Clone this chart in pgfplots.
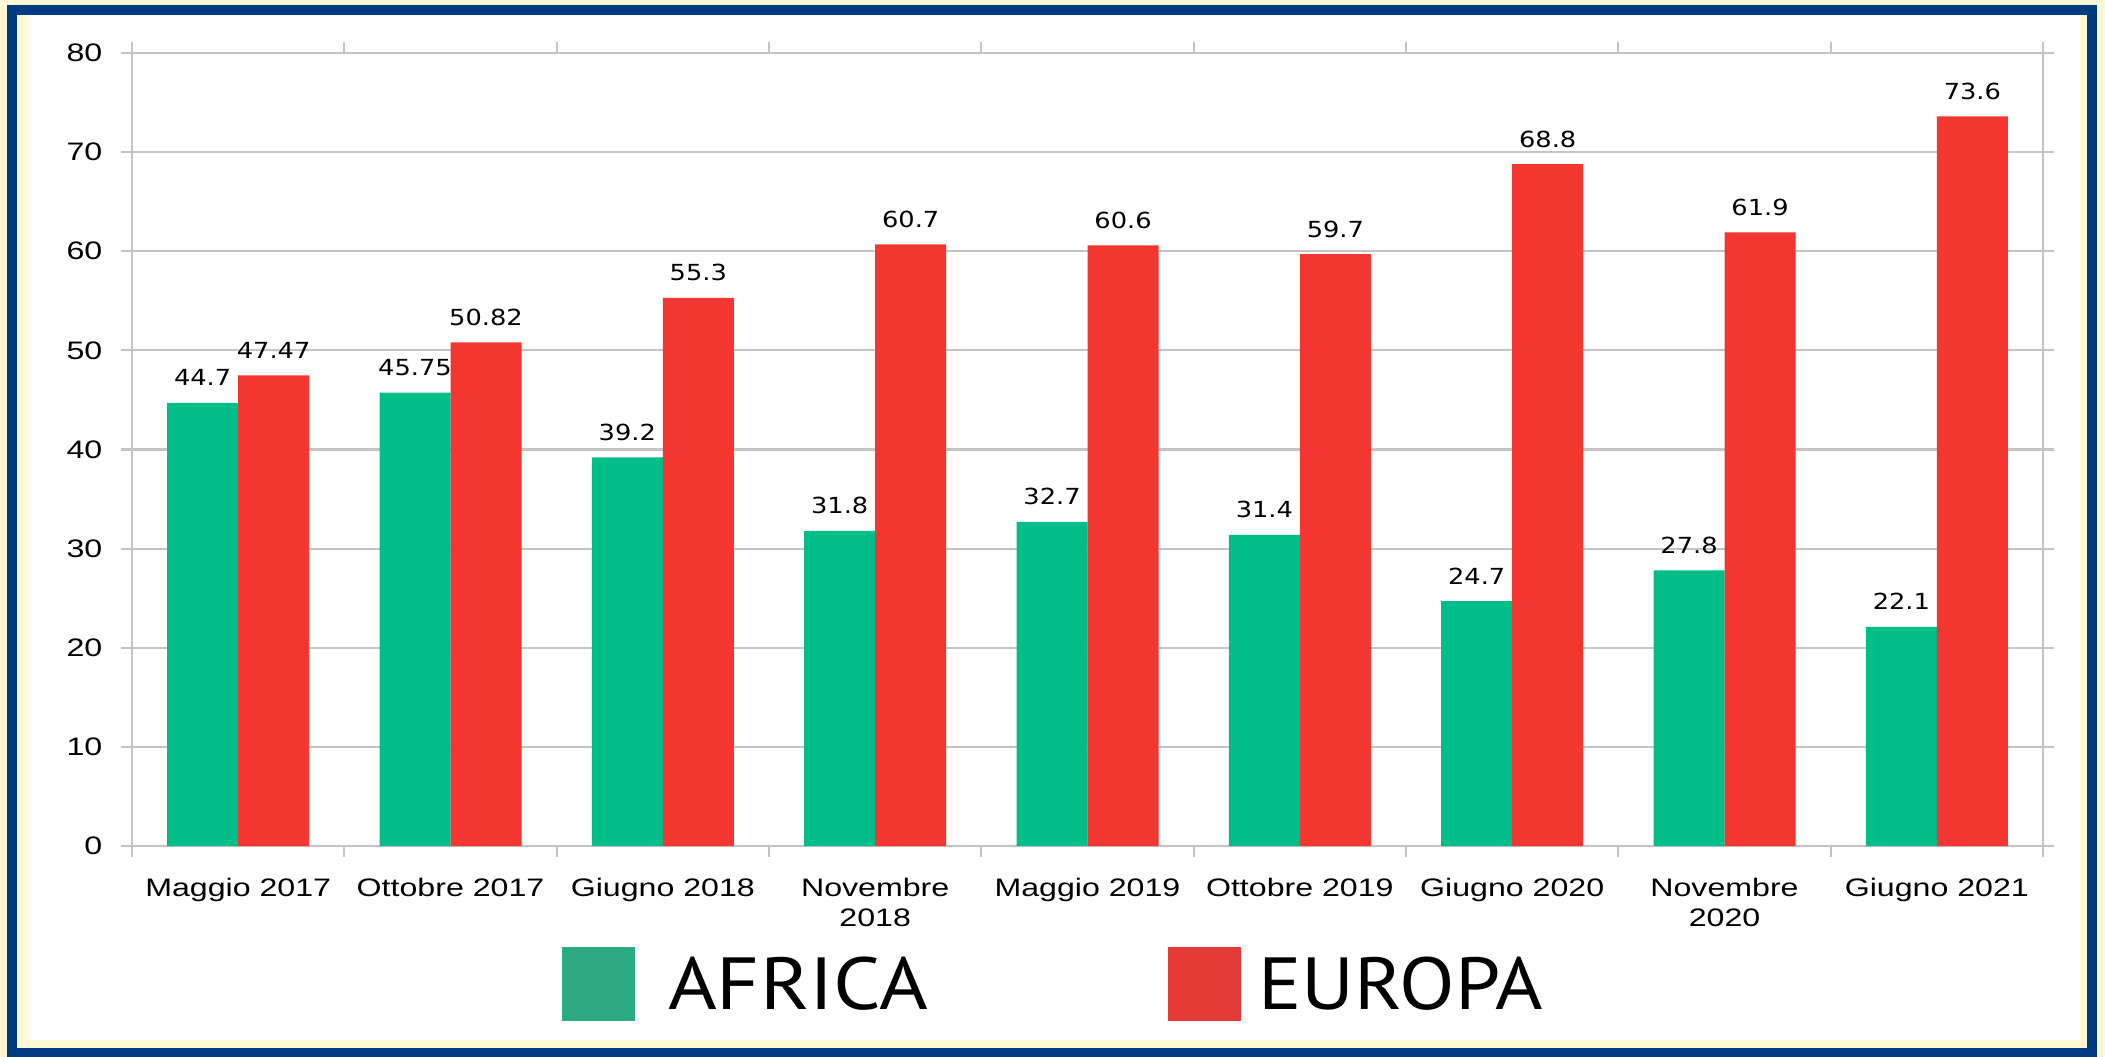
\documentclass[border=0pt]{standalone}
\usepackage{fontspec}
\setmainfont{Liberation Sans}
\newfontfamily\dejavu{DejaVu Sans}
\newfontfamily\legfont{PT Sans}
\usepackage{graphicx}
\usepackage{pgfplots}
\pgfplotsset{compat=1.18}

\definecolor{barGreen}{HTML}{00BE8A}
\definecolor{barRed}{HTML}{F33730}
\definecolor{legGreen}{HTML}{2CAA82}
\definecolor{legRed}{HTML}{E33A35}
\definecolor{frameBlue}{HTML}{003A80}
\definecolor{cream}{HTML}{FFF8D5}
\definecolor{axgrey}{HTML}{C4C4C4}

% the source image is stretched sideways
\newcommand{\sx}[1]{\scalebox{1.27}[1]{#1}}
\newcommand{\sd}[1]{\scalebox{1.16}[1]{#1}}
\newcommand{\two}[2]{\begin{tabular}[t]{@{}c@{}}\sx{#1}\\\sx{#2}\end{tabular}}

\begin{document}
\begin{tikzpicture}
\useasboundingbox (0,0) rectangle (210.5mm,-105.7mm);
\fill[cream] (0,0) rectangle (210.5mm,-105.7mm);
\fill[white] (2.7mm,-1.5mm) rectangle (208.0mm,-104.0mm);
\draw[frameBlue, line width=1mm] (1.2mm,-1.0mm) rectangle (209.2mm,-105.3mm);

\begin{axis}[%
at={(13.2mm,-84.6mm)},
anchor=south west,
width=191.1mm,
height=79.3mm,
scale only axis,
xmin=-0.5, xmax=8.5,
ymin=0, ymax=80,
xtick={0,...,8},
xticklabels={\sx{Maggio 2017},\sx{Ottobre 2017},\sx{Giugno 2018},\two{Novembre}{2018},\sx{Maggio 2019},\sx{Ottobre 2019},\sx{Giugno 2020},\two{Novembre}{2020},\sx{Giugno 2021}},
xtick style={draw=none},
extra x ticks={-0.5,0.5,...,8.5},
extra x tick labels={},
extra x tick style={xtick style={draw=axgrey}},
ytick={0,10,...,80},
yticklabel={\sx{\pgfmathprintnumber{\tick}}},
ymajorgrids,
grid style={axgrey, line width=0.6pt},
axis line style={axgrey, line width=0.6pt},
tick style={axgrey, line width=0.6pt},
tick align=outside,
major tick length=1.1mm,
/pgf/number format/assume math mode=true,
xticklabel style={font=\fontsize{7.2}{8.8}\selectfont, anchor=base, inner sep=0pt, yshift=-3.9mm},
yticklabel style={font=\fontsize{7.2}{8.8}\selectfont, anchor=east, inner sep=0pt, xshift=-1.8mm},
legend columns=2,
legend style={draw=none, fill=none, inner sep=0pt, at={(0.2245,-0.174)}, anchor=west,
  font=\fontsize{21}{25}\selectfont\legfont,
  nodes={inner sep=0pt},
  /tikz/every odd column/.append style={column sep=3.3mm},
  /tikz/every even column/.append style={column sep=24.0mm}},
]
% AFRICA
\addplot[ybar, bar width=7.1mm, bar shift=-3.55mm, fill=barGreen, draw=none, forget plot,
  nodes near coords={\sd{\pgfmathprintnumber{\pgfplotspointmeta}}},
  every node near coord/.append style={font=\fontsize{6.3}{7}\selectfont\dejavu, black, anchor=base, inner sep=0pt, xshift=-3.55mm, yshift=1.7mm}]
coordinates {
  (0,44.7) (1,45.75) (2,39.2) (3,31.8) (4,32.7)
  (5,31.4) (6,24.7) (7,27.8) (8,22.1)
};

% EUROPA
\addplot[ybar, bar width=7.1mm, bar shift=3.55mm, fill=barRed, draw=none, forget plot,
  nodes near coords={\sd{\pgfmathprintnumber{\pgfplotspointmeta}}},
  every node near coord/.append style={font=\fontsize{6.3}{7}\selectfont\dejavu, black, anchor=base, inner sep=0pt, xshift=3.55mm, yshift=1.7mm}]
coordinates {
  (0,47.47) (1,50.82) (2,55.3) (3,60.7) (4,60.6)
  (5,59.7) (6,68.8) (7,61.9) (8,73.6)
};

\addlegendimage{legend image code/.code={\fill[legGreen] (0mm,-3.4mm) rectangle (7.2mm,3.8mm);}}
\addlegendentry{\scalebox{1.13}[1]{AFRICA}}
\addlegendimage{legend image code/.code={\fill[legRed] (0mm,-3.4mm) rectangle (7.2mm,3.8mm);}}
\addlegendentry{\hspace*{-1.6mm}\scalebox{1.10}[1]{EUROPA}}
\end{axis}
\end{tikzpicture}
\end{document}
